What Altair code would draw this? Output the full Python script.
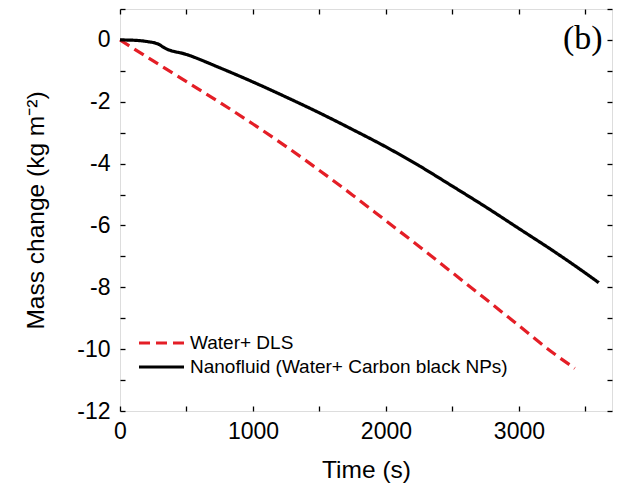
import altair as alt
import pandas as pd

# ---- data ----
series_names = ["Water+ DLS", "Nanofluid (Water+ Carbon black NPs)"]
series_colors = ["#e41e26", "#000000"]

water_time = [0, 250, 500, 750, 1000, 1250, 1500, 1750, 2000, 2250, 2500, 2750, 3000, 3250, 3420]
water_mass = [0, -0.68, -1.35, -2.02, -2.72, -3.45, -4.22, -5.02, -5.85, -6.68, -7.53, -8.38, -9.24, -10.1, -10.62]

nano_time = [0, 100, 200, 290, 335, 500, 750, 1000, 1250, 1500, 1750, 2000, 2250, 2500, 2750, 3000, 3250, 3500, 3600]
nano_mass = [0, -0.01, -0.05, -0.14, -0.26, -0.47, -0.9, -1.36, -1.85, -2.36, -2.9, -3.46, -4.07, -4.73, -5.4, -6.1, -6.8, -7.54, -7.85]

x_ticks = [0, 500, 1000, 1500, 2000, 2500, 3000, 3500]
y_ticks = [1, 0, -1, -2, -3, -4, -5, -6, -7, -8, -9, -10, -11, -12]

panel_label = ["(b)"]
panel_label_x = [3630]
panel_label_y = [-0.3]

# ---- tables ----
df = pd.concat([
    pd.DataFrame({"t": water_time, "m": water_mass, "s": series_names[0]}),
    pd.DataFrame({"t": nano_time, "m": nano_mass, "s": series_names[1]}),
])
lab = pd.DataFrame({"t": panel_label_x, "m": panel_label_y, "txt": panel_label})

FONT = "Liberation Sans"
xscale = alt.Scale(domain=[0, 3700], nice=False, zero=False)
yscale = alt.Scale(domain=[-12, 1], nice=False, zero=False)

x_main = alt.Axis(
    orient="bottom", values=x_ticks,
    labelExpr="datum.value % 1000 === 0 ? toString(datum.value) : ''",
    domain=False, grid=False, offset=-5, tickSize=5, tickWidth=1.3, tickColor="black",
    labelFlush=False, labelOverlap=False,
    labelPadding=9, labelFont=FONT, labelFontSize=23, labelColor="black",
    title="Time (s)", titleFont=FONT, titleFontSize=24.5, titleFontWeight="normal",
    titleColor="black", titlePadding=15,
)
y_main = alt.Axis(
    orient="left", values=y_ticks,
    labelExpr="datum.value % 2 === 0 ? toString(datum.value) : ''",
    domain=False, grid=False, offset=-5, tickSize=5, tickWidth=1.3, tickColor="black",
    labelFlush=False, labelOverlap=False,
    labelPadding=10, labelFont=FONT, labelFontSize=23, labelColor="black",
    title="Mass change (kg m⁻²)", titleFont=FONT, titleFontSize=24.5, titleFontWeight="normal",
    titleColor="black", titlePadding=28,
)
x_top = alt.Axis(orient="top", values=x_ticks, labels=False, domain=False, grid=False,
                 offset=-5, tickSize=5, tickWidth=1.3, tickColor="black", title=None)
y_right = alt.Axis(orient="right", values=y_ticks, labels=False, domain=False, grid=False,
                   offset=-5, tickSize=5, tickWidth=1.3, tickColor="black", title=None)

legend_cfg = dict(
    title=None, orient="none", legendX=17, legendY=322,
    symbolType="stroke", symbolSize=2025, symbolStrokeWidth=3.2,
    clipHeight=24, rowPadding=0, padding=0, labelLimit=0,
    labelFont=FONT, labelFontSize=19, labelColor="black", labelOffset=4,
)

lines = alt.Chart(df).mark_line(strokeWidth=3.2, interpolate="monotone").encode(
    x=alt.X("t:Q", scale=xscale, axis=x_main),
    y=alt.Y("m:Q", scale=yscale, axis=y_main),
    color=alt.Color("s:N", scale=alt.Scale(domain=series_names, range=series_colors),
                    sort=series_names, legend=alt.Legend(**legend_cfg)),
    strokeDash=alt.StrokeDash("s:N", scale=alt.Scale(domain=series_names, range=[[11, 6], [1, 0]]),
                              sort=series_names, legend=alt.Legend(**legend_cfg)),
    order=alt.Order("t:Q"),
)

label = alt.Chart(lab).mark_text(
    font="Liberation Serif", fontSize=34, align="right", baseline="alphabetic", color="black"
).encode(
    x=alt.X("t:Q", scale=xscale, axis=x_top),
    y=alt.Y("m:Q", scale=yscale, axis=y_right),
    text="txt:N",
)

chart = alt.layer(lines, label).resolve_axis(x="independent", y="independent").properties(
    width=492, height=402,
    autosize=alt.AutoSizeParams(type="none"),
    padding={"left": 120, "top": 9, "right": 7, "bottom": 77},
).configure_view(stroke="black", strokeWidth=1.5).configure(background="white")

chart.save("out.html", embed_options={"renderer": "svg", "actions": False})
